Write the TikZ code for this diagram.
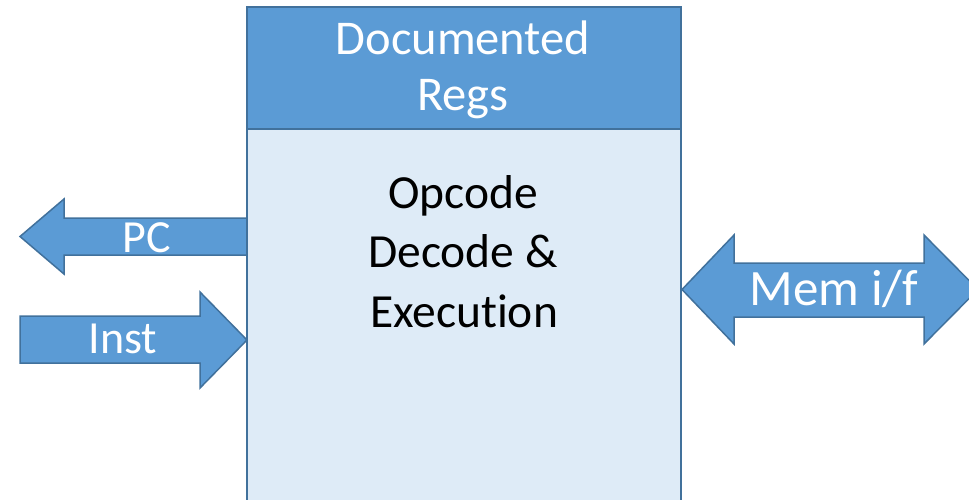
\documentclass[tikz,border=0pt]{standalone}
\usepackage{fontspec}
\setmainfont{Carlito}[Ligatures=NoCommon]
\definecolor{hdrblue}{HTML}{5B9BD5}
\definecolor{bodyblue}{HTML}{DEEBF7}
\definecolor{edgeblue}{HTML}{41719C}
\tikzset{
  fatarrow/.style={fill=hdrblue, draw=edgeblue, line width=1.5pt, line join=miter},
  unitbox/.style={draw=edgeblue, line width=2pt},
  lbl/.style={inner sep=0pt, anchor=base, text=white},
}
\begin{document}
\begin{tikzpicture}[x=1pt, y=-1pt]
  \useasboundingbox (0,0) rectangle (969,499);
  \clip (0,0) rectangle (969,499);

  % PC: leaves the unit to the left
  \draw[fatarrow] (247,218) -- (64,218) -- (64,199) -- (20,236.5) -- (64,274)
    -- (64,255) -- (247,255) -- cycle;
  % Inst: enters the unit from the left
  \draw[fatarrow] (20,316) -- (200,316) -- (200,292) -- (247,340) -- (200,388)
    -- (200,363) -- (20,363) -- cycle;
  % Mem i/f: two-way memory interface on the right
  \draw[fatarrow] (682,289.5) -- (734,235) -- (734,263) -- (924,263) -- (924,235)
    -- (978,289.5) -- (924,344) -- (924,317) -- (734,317) -- (734,344) -- cycle;

  % the execution unit with its register header
  \fill[bodyblue] (247,7) rectangle (681,520);
  \fill[hdrblue] (247,7) rectangle (681,129);
  \draw[edgeblue, line width=2pt] (247,129) -- (681,129);
  \draw[unitbox] (247,520) -- (247,7) -- (681,7) -- (681,520);

  \node[lbl, font=\fontsize{48.5}{57}\selectfont] (regs1) at (463,54) {Documented};
  \node[lbl, font=\fontsize{48.5}{57}\selectfont] (regs2) at (463,110) {Regs};

  \node[lbl, text=black, font=\fontsize{47.5}{58}\selectfont] (op1) at (463,208) {Opcode};
  \node[lbl, text=black, font=\fontsize{47.5}{58}\selectfont] (op2) at (463,267) {Decode \&};
  \node[lbl, text=black, font=\fontsize{47.5}{58}\selectfont] (op3) at (464,327) {Execution};

  \node[lbl, font=\fontsize{46}{54}\selectfont] (pc) at (147,252) {PC};
  \node[lbl, font=\fontsize{46}{54}\selectfont] (inst) at (123,353) {Inst};
  \node[lbl, font=\fontsize{51}{60}\selectfont] (mem) at (834,305) {Mem i/f};
\end{tikzpicture}
\end{document}
